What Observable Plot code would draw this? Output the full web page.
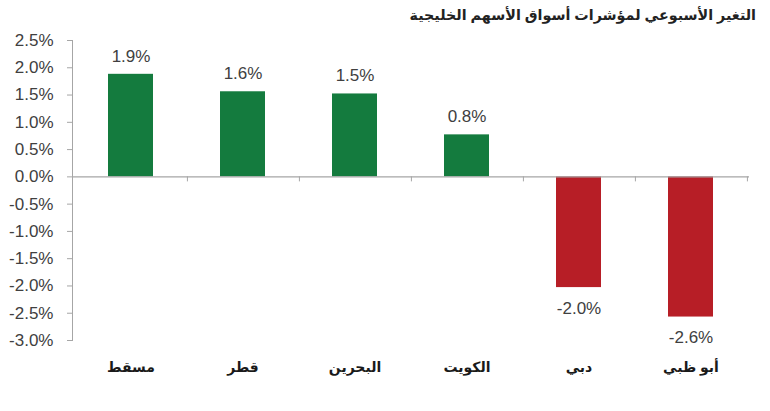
<!DOCTYPE html>
<html>
<head>
<meta charset="utf-8">
<script src="https://cdn.jsdelivr.net/npm/d3@7"></script>
<script src="https://cdn.jsdelivr.net/npm/@observablehq/plot@0.6"></script>
<style>
  body { margin: 0; background: #fff; font-family: "Liberation Sans", Arial, "DejaVu Sans", sans-serif; }
  #title { height: 30px; line-height: 30px; direction: rtl; text-align: right; padding-right: 14px; font-weight: bold; font-size: 14.3px; color: #222; }
</style>
</head>
<body>
<div id="title">التغير الأسبوعي لمؤشرات أسواق الأسهم الخليجية</div>
<div id="chart"></div>
<script>
const markets = ["مسقط", "قطر", "البحرين", "الكويت", "دبي", "أبو ظبي"];
const changes = [1.88, 1.56, 1.52, 0.77, -2.03, -2.57];
const yTicks = [2.5, 2.0, 1.5, 1.0, 0.5, 0.0, -0.5, -1.0, -1.5, -2.0, -2.5, -3.0];

const data = markets.map((m, i) => ({market: m, value: changes[i]}));
const fmt = d => d.toFixed(1) + "%";

const W = 770, H = 381, mL = 72, mR = 21, mT = 10, mB = 71;
const padIn = 0.6, padOut = 0.3;
const step = (W - mL - mR) / (markets.length - padIn + 2 * padOut);

const axisColor = "#a6a6a6";
const textColor = "#404040";

const chart = Plot.plot({
  width: W,
  height: H,
  marginLeft: mL,
  marginRight: mR,
  marginTop: mT,
  marginBottom: mB,
  style: {fontFamily: '"Liberation Sans", Arial, "DejaVu Sans", sans-serif', background: "#fff"},
  x: {domain: markets, paddingInner: padIn, paddingOuter: padOut, axis: null},
  y: {domain: [-3, 2.5], axis: null},
  marks: [
    Plot.barY(data, {x: "market", y: "value", fill: d => d.value >= 0 ? "#147b3e" : "#b71e26"}),
    Plot.frame({anchor: "left", stroke: axisColor}),
    Plot.axisY(yTicks, {tickSize: 5, tickPadding: 14, tickFormat: fmt, stroke: axisColor, color: textColor, fontSize: 17, label: null}),
    Plot.ruleY([0], {stroke: axisColor, strokeWidth: 1.2}),
    Plot.ruleX(markets, {x: d => d, y1: 0, y2: 0, insetBottom: -5, dx: step / 2, stroke: axisColor}),
    Plot.axisX(markets, {tickSize: 0, tickPadding: 22, fontSize: 14, fontWeight: "bold", color: "#1a1a1a", label: null}),
    Plot.text(data.filter(d => d.value >= 0), {x: "market", y: "value", text: d => fmt(d.value), dy: -18, fontSize: 17, fill: textColor}),
    Plot.text(data.filter(d => d.value < 0), {x: "market", y: "value", text: d => fmt(d.value), dy: 21, fontSize: 17, fill: textColor})
  ]
});
document.getElementById("chart").appendChild(chart);
</script>
</body>
</html>
